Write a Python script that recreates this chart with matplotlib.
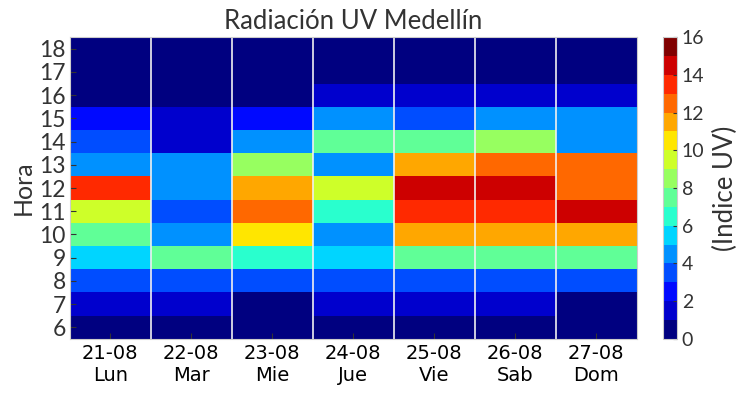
import numpy as np
import matplotlib
matplotlib.use('Agg')
from matplotlib import pyplot as plt

# datos: indice UV por hora (6..18) y por dia
horas = list(range(6, 19))
fechas = ['21-08', '22-08', '23-08', '24-08', '25-08', '26-08', '27-08']
dias = ['Lun', 'Mar', 'Mie', 'Jue', 'Vie', 'Sab', 'Dom']

lun = [0, 1, 3, 5, 7, 9, 13, 4, 3, 2, 0, 0, 0]
mar = [0, 1, 3, 7, 4, 3, 4, 4, 1, 1, 0, 0, 0]
mie = [0, 0, 3, 6, 10, 12, 11, 8, 4, 2, 0, 0, 0]
jue = [0, 1, 3, 5, 4, 6, 9, 4, 7, 4, 1, 0, 0]
vie = [0, 1, 3, 7, 11, 13, 14, 11, 7, 3, 1, 0, 0]
sab = [0, 1, 3, 7, 11, 13, 14, 12, 8, 4, 1, 0, 0]
dom = [0, 0, 3, 7, 11, 14, 12, 12, 4, 4, 1, 0, 0]

uv = np.array([lun, mar, mie, jue, vie, sab, dom]).T + 0.5

fuente = 'Lato'
gris = '#333333'

fig = plt.figure(figsize=(7.43, 3.95), dpi=100)
ax = fig.add_axes([0.094, 0.142, 0.763, 0.764])
cax = fig.add_axes([0.892, 0.142, 0.019, 0.764])

cmap = plt.get_cmap('jet', 16)
x = np.arange(len(fechas))
mesh = ax.pcolormesh(x, horas, uv, cmap=cmap, vmin=0, vmax=16, shading='nearest')

# lineas blancas entre dias
for xi in x[:-1]:
    ax.axvline(xi + 0.5, color='#f0f0f0', lw=1.2)

ax.set_xticks(x)
ax.set_xticklabels([f + '\n' + d for f, d in zip(fechas, dias)], fontsize=14, family='DejaVu Sans')
ax.set_yticks(horas)
ax.set_yticklabels([str(h) for h in horas], fontsize=16.5, family=fuente, color=gris)
ax.tick_params(direction='in', length=4, color=gris)
ax.tick_params(axis='y', pad=3)
ax.set_ylabel('Hora', fontsize=18, family=fuente, color=gris, labelpad=3)
ax.set_title('Radiación UV Medellín', fontsize=18.5, family=fuente, color=gris, pad=6)
for s in ax.spines.values():
    s.set_color('#cccccc')

cb = fig.colorbar(mesh, cax=cax, ticks=range(0, 17, 2))
cb.outline.set_edgecolor('#cccccc')
cb.ax.tick_params(labelsize=14, colors=gris, direction='in', length=3)
for t in cb.ax.get_yticklabels():
    t.set_family(fuente)
cb.set_label('(Indice UV)', fontsize=18.5, family=fuente, color=gris, labelpad=6)

fig.savefig('out.png', dpi=100)
